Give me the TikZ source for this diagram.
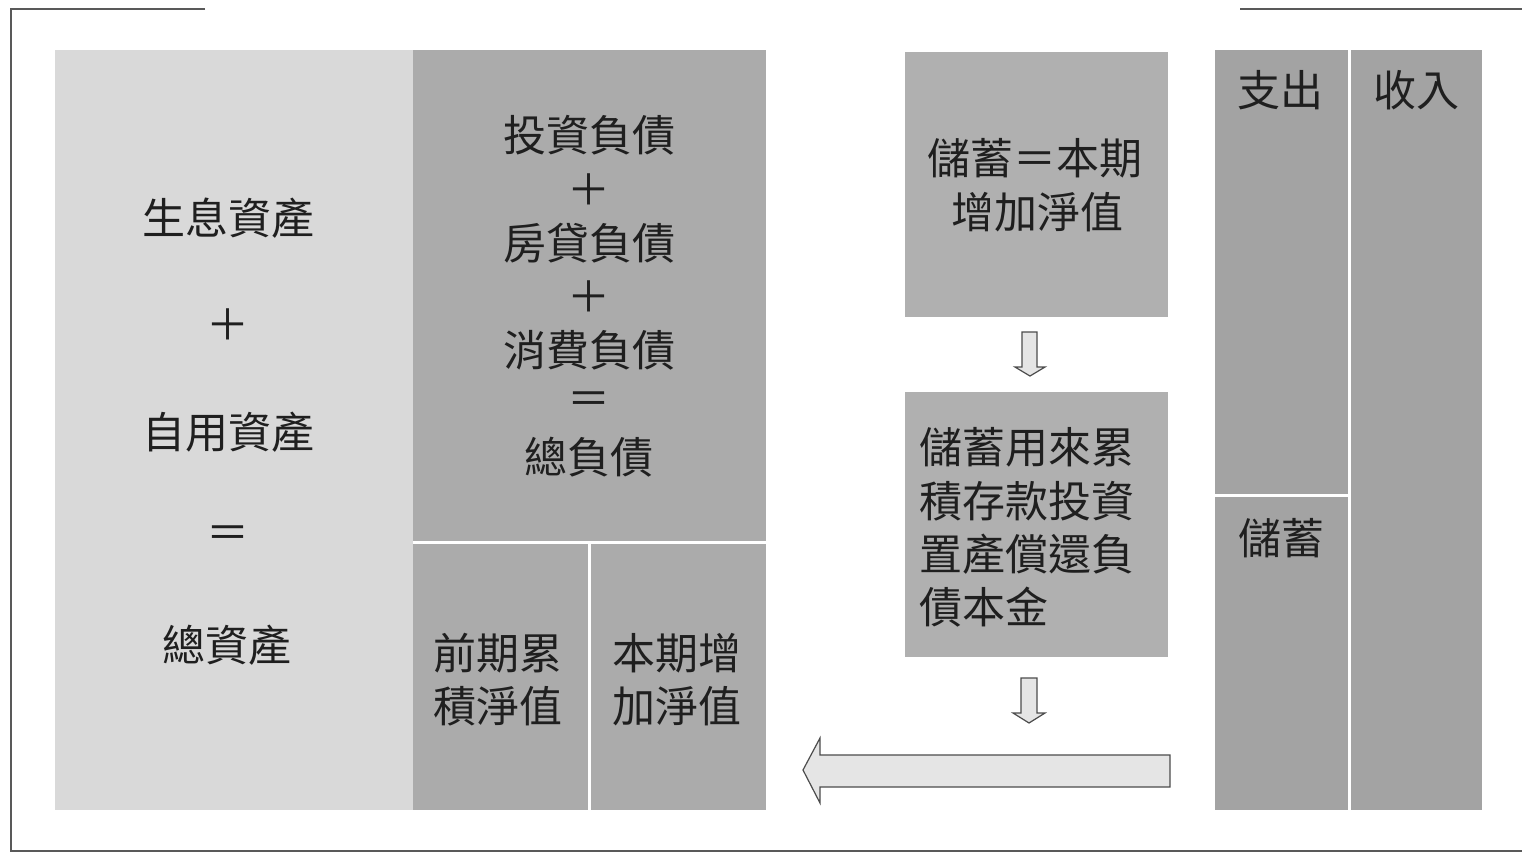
\documentclass[tikz,border=0pt]{standalone}
\usepackage{fontspec}
\setmainfont{Noto Sans CJK TC}
\usetikzlibrary{calc}
\definecolor{lightfill}{gray}{0.85}
\definecolor{darkfill}{gray}{0.67}
\definecolor{rightfill}{gray}{0.64}
\definecolor{boxfill}{gray}{0.69}
\definecolor{arrowfill}{gray}{0.90}
\definecolor{inkcol}{gray}{0.12}
\definecolor{framecol}{gray}{0.35}
\begin{document}
\begin{tikzpicture}[x=0.5pt,y=-0.5pt,
  panel/.style={anchor=north west,inner sep=0pt,outer sep=0pt,draw=none},
  lt/.style={panel,fill=lightfill},
  dk/.style={panel,fill=darkfill},
  rt/.style={panel,fill=rightfill},
  bx/.style={panel,fill=boxfill},
  lbl/.style={text=inkcol,font=\fontsize{21.5}{26.5}\selectfont,inner sep=0pt,align=center},
  lbll/.style={lbl,align=left,anchor=west},
  gap/.style={draw=white,line width=1.5pt},
  framel/.style={draw=framecol,line width=1pt},
  blockarrow/.style={draw=black!70,fill=arrowfill,line width=0.6pt,line join=miter}
]
\useasboundingbox (0,0) rectangle (1522,853);
% frame
\draw[framel] (205,9) -- (11,9) -- (11,851) -- (1522,851);
\draw[framel] (1240,9) -- (1522,9);

% left panel
\node[lt,minimum width=179pt,minimum height=380pt] (assets) at (55,50) {};
% dark panels
\node[dk,minimum width=176.5pt,minimum height=246pt] (debt) at (413,50) {};
\node[dk,minimum width=88pt,minimum height=134pt] (prev) at (413,542) {};
\node[dk,minimum width=88.5pt,minimum height=134pt] (curr) at (589,542) {};
\draw[gap] (prev.north west) -- (curr.north east);
\draw[gap] (curr.north west) -- (curr.south west);

% middle boxes
\node[bx,minimum width=131.5pt,minimum height=132.5pt] (box1) at (905,52) {};
\node[bx,minimum width=131.5pt,minimum height=132.5pt] (box2) at (905,392) {};

% right panel
\node[rt,minimum width=67pt,minimum height=222.5pt] (exp) at (1215,50) {};
\node[rt,minimum width=67pt,minimum height=157.5pt] (sav) at (1215,495) {};
\node[rt,minimum width=66.5pt,minimum height=380pt] (inc) at (1349,50) {};
\draw[gap] (exp.south west) -- (exp.south east);
\draw[gap] (inc.north west) -- (inc.south west);

% arrows
\draw[blockarrow] (1022,332) -- (1037,332) -- (1037,367) -- (1045,367) -- (1030,376) -- (1015,367) -- (1022,367) -- cycle;
\draw[blockarrow] (1021,678) -- (1037,678) -- (1037,713) -- (1045,713) -- (1029,723) -- (1013,713) -- (1021,713) -- cycle;
\draw[blockarrow] (1170,755) -- (820,755) -- (820,738) -- (803,770) -- (820,803) -- (820,787) -- (1170,787) -- cycle;

% left panel texts
\node[lbl] (a1) at (228,218) {生息資產};
\node[lbl] (a2) at (228,325) {＋};
\node[lbl] (a3) at (228,432) {自用資產};
\node[lbl] (a4) at (228,537) {＝};
\node[lbl] (a5) at (227,645) {總資產};

% debt texts
\node[lbl] (d1) at (589,135) {投資負債};
\node[lbl] (d2) at (589,190) {＋};
\node[lbl] (d3) at (589,243) {房貸負債};
\node[lbl] (d4) at (589,297) {＋};
\node[lbl] (d5) at (589,350) {消費負債};
\node[lbl] (d6) at (589,403) {＝};
\node[lbl] (d7) at (589,457) {總負債};

% net worth
\node[lbl] (p1) at (498,653) {前期累};
\node[lbl] (p2) at (498,706) {積淨值};
\node[lbl] (c1) at (677,653) {本期增};
\node[lbl] (c2) at (677,706) {加淨值};

% box texts
\node[lbl] (b1) at (1035,158) {儲蓄＝本期};
\node[lbl] (b2) at (1037,212) {增加淨值};
\node[lbll] (e1) at (919,447) {儲蓄用來累};
\node[lbll] (e2) at (919,501) {積存款投資};
\node[lbll] (e3) at (919,554) {置產償還負};
\node[lbll] (e4) at (919,607) {債本金};

% right panel texts
\node[lbl] (r1) at (1280,90) {支出};
\node[lbl] (r2) at (1416,90) {收入};
\node[lbl] (r3) at (1281,538) {儲蓄};
\end{tikzpicture}
\end{document}
